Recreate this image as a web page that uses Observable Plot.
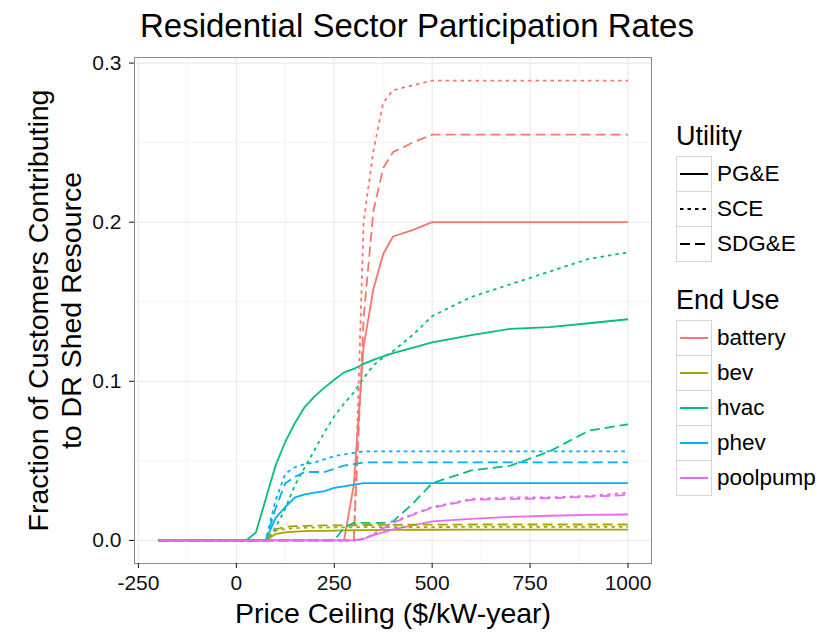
<!DOCTYPE html>
<html>
<head>
<meta charset="utf-8">
<script src="https://cdn.jsdelivr.net/npm/d3@7"></script>
<script src="https://cdn.jsdelivr.net/npm/@observablehq/plot@0.6"></script>
<style>
  body { margin: 0; background: #fff; font-family: "Liberation Sans", Arial, Helvetica, sans-serif; }
  #wrap { position: relative; width: 824px; height: 635px; overflow: hidden; }
  #title { position: absolute; left: 140px; top: 9px; font-size: 33px; line-height: 33px; color: #000; white-space: nowrap; }
  .lg { position: absolute; white-space: nowrap; color: #000; }
  .lgtitle { font-size: 27px; line-height: 27px; }
  .lglab { font-size: 22.5px; line-height: 35px; }
  .key { position: absolute; width: 34px; height: 34px; border: 1px solid #d5d5d5; background: #fff; }
</style>
</head>
<body>
<div id="wrap">
  <div id="title">Residential Sector Participation Rates</div>
</div>
<script>
// ---- data ----
const priceCeiling = [-200, 0, 25, 50, 75, 100, 125, 150, 175, 200, 225, 250, 275, 300, 325, 350, 375, 400, 450, 500, 600, 700, 800, 900, 1000];

const endUses = ["battery", "bev", "hvac", "phev", "poolpump"];
const utilities = ["PG&E", "SCE", "SDG&E"];
const endUseColors = ["#F8766D", "#A3A500", "#00BF7D", "#00B0F6", "#E76BF3"];

const xTicks = [-250, 0, 250, 500, 750, 1000];
const xMinorTicks = [-125, 125, 375, 625, 875];
const yTicks = [0, 0.1, 0.2, 0.3];
const yMinorTicks = [0.05, 0.15, 0.25];

const batteryPGE  = [0,0,0,0,0,0,0,0,0,0,0,0,0,0.035,0.122,0.158,0.180,0.191,0.195,0.200,0.200,0.200,0.200,0.200,0.200];
const batterySCE  = [0,0,0,0,0,0,0,0,0,0,0,0,0,0,0.200,0.245,0.275,0.283,0.286,0.289,0.289,0.289,0.289,0.289,0.289];
const batterySDGE = [0,0,0,0,0,0,0,0,0,0,0,0,0,0,0.140,0.207,0.234,0.244,0.250,0.255,0.255,0.255,0.255,0.255,0.255];

const bevPGE  = [0,0,0,0,0,0.004,0.005,0.0055,0.0058,0.006,0.006,0.0062,0.0063,0.0064,0.0065,0.0065,0.0066,0.0066,0.0067,0.0067,0.0068,0.0068,0.0068,0.0068,0.0068];
const bevSCE  = [0,0,0,0,0,0.006,0.0072,0.0077,0.008,0.008,0.0081,0.0082,0.0082,0.0083,0.0083,0.0083,0.0084,0.0084,0.0084,0.0084,0.0085,0.0085,0.0085,0.0085,0.0085];
const bevSDGE = [0,0,0,0,0,0.007,0.0085,0.009,0.0092,0.0093,0.0094,0.0095,0.0095,0.0096,0.0097,0.0097,0.0098,0.0098,0.0099,0.0099,0.010,0.010,0.010,0.010,0.010];

const hvacPGE  = [0,0,0,0.005,0.026,0.047,0.062,0.074,0.084,0.0905,0.096,0.101,0.1056,0.1078,0.111,0.1135,0.1157,0.1177,0.121,0.1245,0.129,0.133,0.134,0.1365,0.139];
const hvacSCE  = [0,0,0,0,0,0.008,0.020,0.035,0.046,0.057,0.068,0.078,0.086,0.093,0.102,0.110,0.115,0.119,0.129,0.141,0.153,0.161,0.169,0.177,0.181];
const hvacSDGE = [0,0,0,0,0,0,0,0,0,0,0,0,0.008,0.011,0.011,0.011,0.011,0.012,0.023,0.036,0.044,0.047,0.056,0.069,0.073];

const phevPGE  = [0,0,0,0,0,0.014,0.021,0.027,0.029,0.030,0.031,0.033,0.034,0.035,0.036,0.036,0.036,0.036,0.036,0.036,0.036,0.036,0.036,0.036,0.036];
const phevSCE  = [0,0,0,0,0,0.025,0.042,0.046,0.048,0.049,0.051,0.053,0.054,0.055,0.056,0.056,0.056,0.056,0.056,0.056,0.056,0.056,0.056,0.056,0.056];
const phevSDGE = [0,0,0,0,0,0.020,0.036,0.040,0.043,0.043,0.043,0.045,0.047,0.048,0.049,0.049,0.049,0.049,0.049,0.049,0.049,0.049,0.049,0.049,0.049];

const poolpumpPGE  = [0,0,0,0,0,0,0,0,0,0,0,0,0,0,0.001,0.0033,0.005,0.007,0.0095,0.012,0.0136,0.0148,0.0155,0.0161,0.0163];
const poolpumpSCE  = [0,0,0,0,0,0,0,0,0,0,0,0,0,0,0.001,0.004,0.008,0.0115,0.0165,0.021,0.026,0.027,0.027,0.028,0.030];
const poolpumpSDGE = [0,0,0,0,0,0,0,0,0,0,0,0,0,0,0.0008,0.0035,0.0075,0.011,0.016,0.0205,0.0255,0.026,0.0265,0.0275,0.0285];

// ---- assemble long table ----
const seriesTable = {
  battery:  [batteryPGE, batterySCE, batterySDGE],
  bev:      [bevPGE, bevSCE, bevSDGE],
  hvac:     [hvacPGE, hvacSCE, hvacSDGE],
  phev:     [phevPGE, phevSCE, phevSDGE],
  poolpump: [poolpumpPGE, poolpumpSCE, poolpumpSDGE]
};
const rows = [];
for (const e of endUses) {
  seriesTable[e].forEach((vals, ui) => {
    vals.forEach((v, i) => rows.push({price: priceCeiling[i], value: v, endUse: e, utility: utilities[ui]}));
  });
}

const dashFor = {"PG&E": null, "SCE": "3.5,4", "SDG&E": "10,5"};
const lineMarks = utilities.map(u => Plot.line(rows.filter(r => r.utility === u), {
  x: "price", y: "value", stroke: "endUse", z: "endUse",
  strokeWidth: 1.8, strokeDasharray: dashFor[u] ?? undefined,
  strokeLinecap: "butt", strokeLinejoin: "round"
}));

const chart = Plot.plot({
  width: 824, height: 635,
  marginLeft: 134, marginRight: 173, marginTop: 57, marginBottom: 72,
  x: {domain: [-260, 1060]},
  y: {domain: [-0.0145, 0.3035]},
  color: {domain: endUses, range: endUseColors},
  style: {fontFamily: "'Liberation Sans', Arial, Helvetica, sans-serif", background: "#fff", color: "#000"},
  marks: [
    Plot.gridX({ticks: xMinorTicks, stroke: "#f3f3f3", strokeOpacity: 1, strokeWidth: 0.8}),
    Plot.gridY({ticks: yMinorTicks, stroke: "#f3f3f3", strokeOpacity: 1, strokeWidth: 0.8}),
    Plot.gridX({ticks: xTicks, stroke: "#ebebeb", strokeOpacity: 1, strokeWidth: 1.2}),
    Plot.gridY({ticks: yTicks, stroke: "#ebebeb", strokeOpacity: 1, strokeWidth: 1.2}),
    ...lineMarks,
    Plot.frame({stroke: "#8a8a8a"}),
    Plot.axisX({ticks: xTicks, tickFormat: d => String(d), tickSize: 5, tickPadding: 7, fontSize: 21, label: null, color: "#111"}),
    Plot.axisY({ticks: yTicks, tickFormat: d3.format(".1f"), tickSize: 5, tickPadding: 8, fontSize: 21, label: null, color: "#111"}),
    Plot.axisX({ticks: [], label: "Price Ceiling ($/kW-year)", labelAnchor: "center", labelArrow: "none", labelOffset: 59, fontSize: 28.5, color: "#000"}),
    Plot.axisY({ticks: [], label: "Fraction of Customers Contributing", labelAnchor: "center", labelArrow: "none", labelOffset: 107, fontSize: 28.5, color: "#000"}),
    Plot.axisY({ticks: [], label: "to DR Shed Resource", labelAnchor: "center", labelArrow: "none", labelOffset: 74, fontSize: 28.5, color: "#000"})
  ]
});
const wrap = document.getElementById("wrap");
wrap.insertBefore(chart, wrap.firstChild);

// ---- legends (HTML) ----
function addText(cls, txt, left, top) {
  const d = document.createElement("div");
  d.className = "lg " + cls; d.textContent = txt;
  d.style.left = left + "px"; d.style.top = top + "px";
  wrap.appendChild(d);
}
function addKey(left, top, color, dash) {
  const k = document.createElement("div");
  k.className = "key"; k.style.left = left + "px"; k.style.top = top + "px";
  const ns = "http://www.w3.org/2000/svg";
  const s = document.createElementNS(ns, "svg");
  s.setAttribute("width", 34); s.setAttribute("height", 34);
  const l = document.createElementNS(ns, "line");
  l.setAttribute("x1", 3); l.setAttribute("x2", 31); l.setAttribute("y1", 17); l.setAttribute("y2", 17);
  l.setAttribute("stroke", color); l.setAttribute("stroke-width", 2);
  if (dash) l.setAttribute("stroke-dasharray", dash);
  s.appendChild(l); k.appendChild(s); wrap.appendChild(k);
}
const LX = 676, ROW = 35;
addText("lgtitle", "Utility", LX, 123);
utilities.forEach((u, i) => {
  addKey(LX, 156 + i * ROW, "#000", dashFor[u]);
  addText("lglab", u, LX + 41, 156 + i * ROW);
});
addText("lgtitle", "End Use", LX, 287);
endUses.forEach((e, i) => {
  addKey(LX, 320 + i * ROW, endUseColors[i], null);
  addText("lglab", e, LX + 41, 320 + i * ROW);
});
</script>
</body>
</html>
